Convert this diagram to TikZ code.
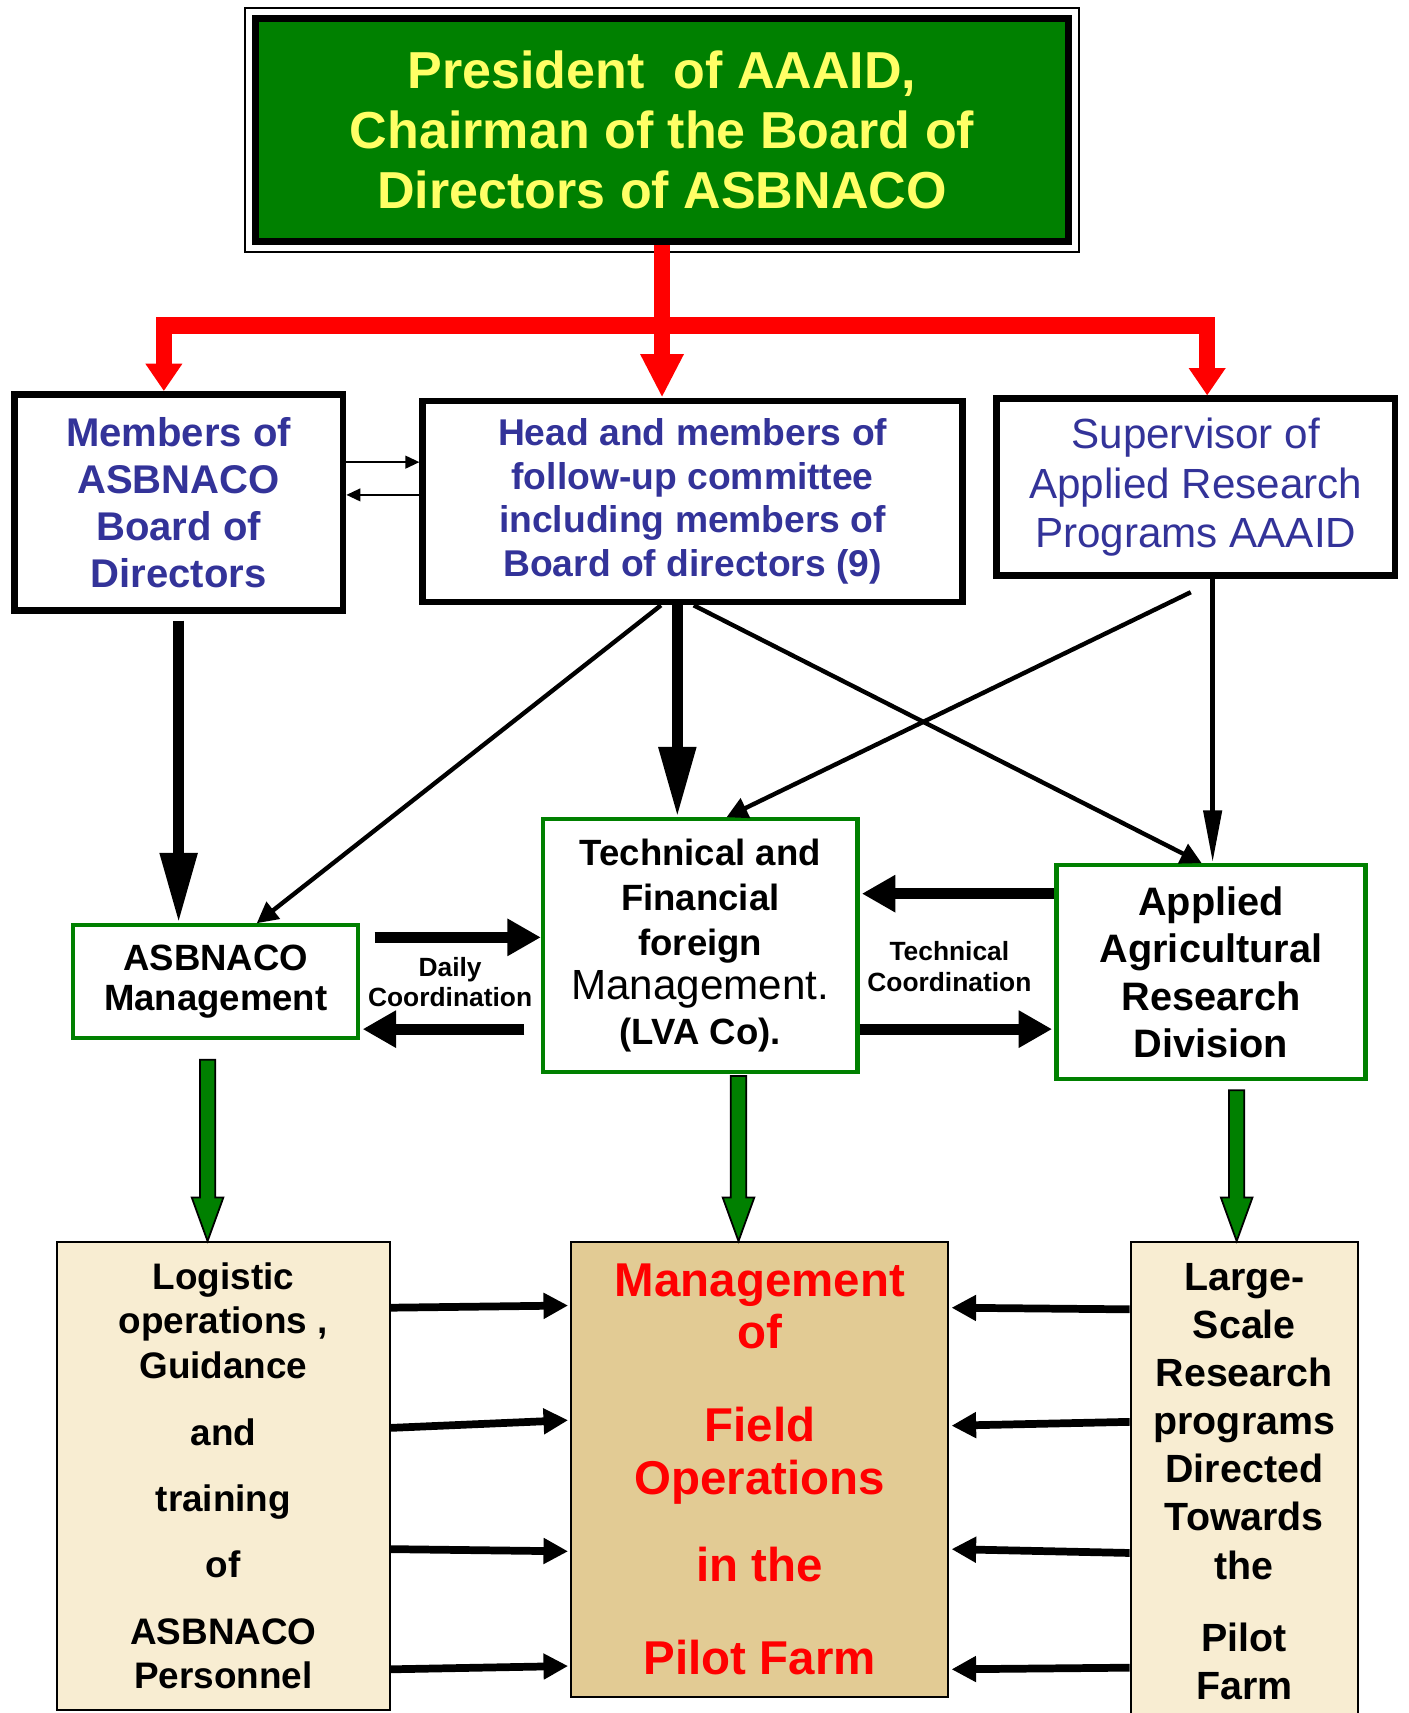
\documentclass[tikz,border=0pt]{standalone}
\usepackage{fontspec}
\setmainfont{Liberation Sans}
\usetikzlibrary{arrows.meta,calc}
\newlength\px
\setlength\px{0.010923cm}
\definecolor{boardgreen}{HTML}{008000}
\definecolor{chairyellow}{HTML}{FFFF66}
\definecolor{deptblue}{HTML}{333399}
\definecolor{paper}{HTML}{F8EDD2}
\definecolor{papyrus}{HTML}{E2CB94}
\newcommand\fs[2]{\fontsize{#1}{#2}\selectfont}
% green block arrow pointing down, from #1 to #2
\newcommand\greendown[2]{%
  \filldraw[fill=boardgreen, draw=black, line width=0.5pt]
    ($(#1)+(-7,0)$) -- ($(#2)+(-7,-40)$) -- ($(#2)+(-14.5,-40)$) -- (#2)
    -- ($(#2)+(14.5,-40)$) -- ($(#2)+(7,-40)$) -- ($(#1)+(7,0)$) -- cycle;}

\begin{document}
\begin{tikzpicture}[x=1\px, y=-1\px,
  every node/.style={align=center, inner sep=0pt},
  blackbox/.style={draw, line width=1.9pt, fill=white, text=deptblue},
  greenbox/.style={draw=boardgreen, line width=1.2pt, fill=white, font=\bfseries},
  paperbox/.style={draw, line width=0.6pt, fill=paper, font=\bfseries},
  redline/.style={red, line width=4.7pt},
  thinarrow/.style={line width=0.6pt, -{Triangle[length=4pt,width=3.6pt]}},
  heavyarrow/.style={line width=3.1pt, -{Triangle[length=20pt,width=10pt]}},
  wideharrow/.style={line width=3.1pt, -{Triangle[length=9.5pt,width=10pt]}},
  linkarrow/.style={line width=1.25pt, -{Triangle[length=6pt,width=6pt]}},
  longarrow/.style={line width=1.6pt, -{Triangle[length=15pt,width=5pt]}},
  feedarrow/.style={line width=2.2pt, -{Triangle[length=7pt,width=7pt]}},
  coordlabel/.style={font=\bfseries\fs{7.5}{8.7}}]
  \useasboundingbox (0,0) rectangle (1289,1568);

  % top
  \node[draw, line width=1.6pt, fill=boardgreen, text=chairyellow,
        minimum width=746\px, minimum height=206\px,
        font=\bfseries\fs{14.8}{17.1}] (top) at (606,119)
        {President\ \ of AAAID,\\Chairman of the Board of\\Directors of ASBNACO};
  \draw[line width=0.6pt] ($(top.south west)+(-6,6)$) rectangle ($(top.north east)+(6,-6)$);
  \draw[line width=0.5pt] ($(top.south west)+(6,-6)$) rectangle ($(top.north east)+(-6,6)$);

  % second row
  \node[blackbox, minimum width=301\px, minimum height=198\px,
        font=\bfseries\fs{11.4}{13.4}] (members) at (163.5,460)
        {Members of\\ASBNACO\\Board of\\Directors};
  \node[blackbox, minimum width=494\px, minimum height=184\px,
        font=\bfseries\fs{10.6}{12.4}] (head) at (634,459)
        {Head and members of\\follow-up committee\\including members of\\Board of directors (9)};
  \node[blackbox, minimum width=365\px, minimum height=162\px,
        font=\fs{12}{14}] (sup) at (1094.5,446)
        {Supervisor of\\Applied Research\\Programs AAAID};

  % third row
  \node[greenbox, minimum width=261\px, minimum height=103\px,
        font=\bfseries\fs{10.4}{11.5}] (mgmt) at (197.5,898.5)
        {ASBNACO\\Management};
  \node[greenbox, minimum width=288\px, minimum height=231\px,
        font=\bfseries\fs{10.4}{12.7}] (tf) at (641,865.5)
        {Technical and\\Financial\\foreign\\{\mdseries\fs{12}{12.7}Management.}\\(LVA Co).};
  \node[greenbox, minimum width=283\px, minimum height=196\px,
        font=\bfseries\fs{11.3}{13.5}] (aard) at (1108.5,890)
        {Applied\\Agricultural\\Research\\Division};
  \node[coordlabel] (daily) at (412,899) {Daily\\Coordination};
  \node[coordlabel] (tech) at (869,885) {Technical\\Coordination};

  % bottom row
  \node[paperbox, minimum width=305\px, minimum height=428\px,
        font=\bfseries\fs{10.5}{12.7}] (logi) at (204.5,1351)
        {Logistic\\operations ,\\Guidance\\[6.2pt]and\\[6.2pt]training\\[6.2pt]of\\[6.2pt]ASBNACO\\Personnel};
  \node[paperbox, fill=papyrus, minimum width=345\px, minimum height=416\px,
        text=red, font=\bfseries\fs{13.5}{14.9}] (field) at (695.5,1345)
        {Management\\of\\[11.5pt]Field\\Operations\\[10pt]in the\\[11.5pt]Pilot Farm};
  \node[paperbox, minimum width=208\px, minimum height=438\px,
        font=\bfseries\fs{11.2}{13.7}] (large) at (1139,1356)
        {Large-\\Scale\\Research\\programs\\Directed\\Towards\\the\\[6.8pt]Pilot\\Farm};

  % red lines from the top
  \draw[redline, -{Triangle[length=12.4pt,width=11.5pt]}] (top.south) -- (top.south |- head.north);
  \coordinate (barL) at (150,298);
  \coordinate (barR) at (1105,298);
  \draw[redline, {Triangle[length=7.8pt,width=10pt]}-{Triangle[length=7.8pt,width=10pt]}]
    (barL |- members.north) -- (barL) -- (barR) -- (barR |- sup.north);

  % between board and committee
  \draw[thinarrow] ($(members.east)+(0,-37)$) -- ($(head.west)+(0,-36)$);
  \draw[thinarrow] ($(head.west)+(0,-6)$) -- ($(members.east)+(0,-7)$);

  % down to the third row
  \draw[heavyarrow] ($(members.south)+(0,6)$) -- (members.south |- mgmt.north);
  \coordinate (hs) at ($(head.south)+(-14,0)$);
  \draw[heavyarrow] (hs) -- (hs |- tf.north);
  \draw[linkarrow] ($(head.south)+(-29,0)$) -- ($(mgmt.north)+(37.5,0)$);
  \draw[linkarrow] ($(head.south)+(1,0)$) -- ($(aard.north)+(-8.5,0)$);
  \draw[linkarrow] ($(sup.south)+(-4.5,12)$) -- ($(tf.north)+(24,0)$);
  \coordinate (ss) at ($(sup.south)+(15.5,0)$);
  \draw[longarrow] (ss) -- (ss |- aard.north);

  % coordination
  \draw[wideharrow] ($(mgmt.east)+(13,-40.5)$) -- ($(tf.west)+(0,-7.5)$);
  \draw[wideharrow] ($(tf.west)+(-15,76.5)$) -- ($(mgmt.east)+(2,43.5)$);
  \draw[wideharrow] ($(aard.west)+(0,-72)$) -- ($(tf.east)+(2,-47.5)$);
  \draw[wideharrow] ($(tf.east)+(0,76.5)$) -- ($(aard.west)+(-2,52)$);

  % green arrows
  \coordinate (g1) at ($(mgmt.south)+(-7.5,18)$);
  \coordinate (g1e) at (g1 |- logi.north);
  \greendown{g1}{g1e}
  \coordinate (g2) at ($(tf.south)+(35,2)$);
  \coordinate (g2e) at (g2 |- field.north);
  \greendown{g2}{g2e}
  \coordinate (g3) at ($(aard.south)+(23.5,8)$);
  \coordinate (g3e) at (g3 |- large.north);
  \greendown{g3}{g3e}

  % into the pilot farm
  \foreach \a/\b in {-154/-150,-44/-45,67/75,177/180}
    \draw[feedarrow] ($(logi.east)+(0,\a)$) -- ($(field.west)+(-2,\b)$);
  \foreach \a/\b in {-157.5/-148,-54.5/-40,65.5/73,170.5/183}
    \draw[feedarrow] ($(large.west)+(0,\a)$) -- ($(field.east)+(2,\b)$);
\end{tikzpicture}
\end{document}
